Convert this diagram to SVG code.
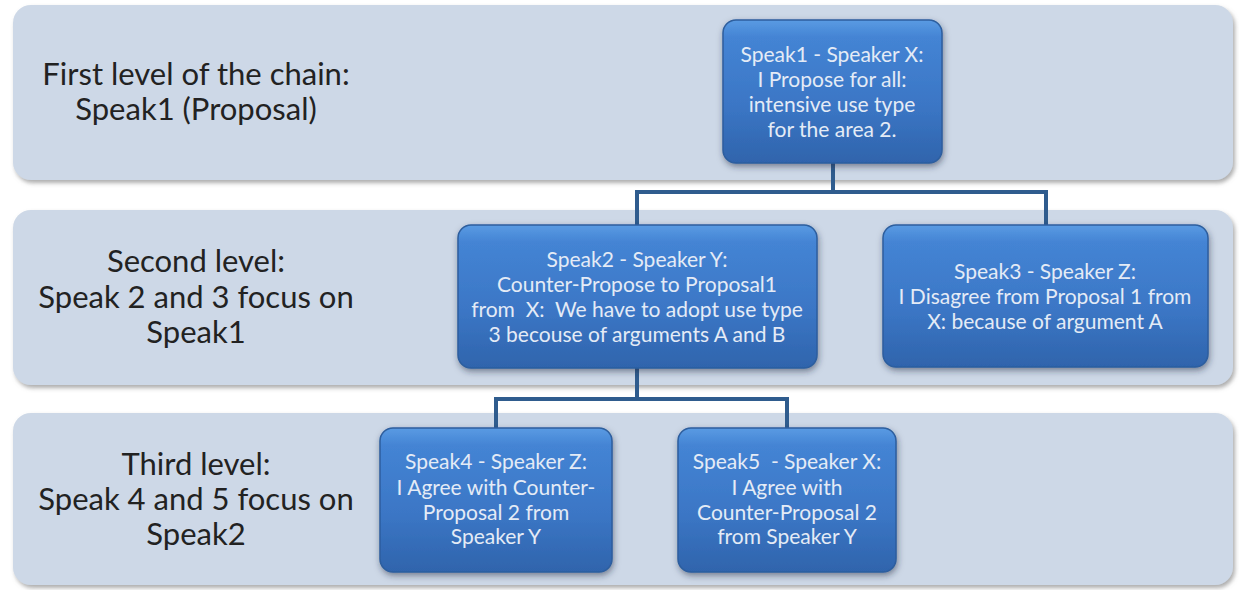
<svg xmlns="http://www.w3.org/2000/svg" width="1239" height="590" viewBox="0 0 1239 590">
<defs>
<linearGradient id="nodeGrad" x1="0" y1="0" x2="0" y2="1">
<stop offset="0" stop-color="#5a9be3"/>
<stop offset="0.12" stop-color="#4484d4"/>
<stop offset="0.6" stop-color="#3b76c5"/>
<stop offset="1" stop-color="#2f64ac"/>
</linearGradient>
<filter id="bandShadow" x="-5%" y="-10%" width="110%" height="125%">
<feDropShadow dx="2" dy="3" stdDeviation="2" flood-color="#777" flood-opacity="0.6"/>
</filter>
<filter id="nodeShadow" x="-10%" y="-10%" width="125%" height="130%">
<feDropShadow dx="1" dy="3" stdDeviation="3" flood-color="#1a2a40" flood-opacity="0.5"/>
</filter>
</defs>
<style>
.band{fill:#cdd8e7;filter:url(#bandShadow);}
.node{fill:url(#nodeGrad);stroke:#2d5e9e;stroke-width:1.5;filter:url(#nodeShadow);}
.lbl{font-family:Lato,"Liberation Sans",sans-serif;font-size:31px;fill:#222;text-anchor:middle;}
.ntxt{font-family:Lato,"Liberation Sans",sans-serif;font-size:21px;fill:#e4ebf6;text-anchor:middle;}
.conn{fill:none;stroke:#2f5c8e;stroke-width:4;}
</style>
<rect width="1239" height="590" fill="#ffffff"/>
<g id="bands">
<rect class="band" x="13" y="5" width="1220" height="175" rx="18"/>
<rect class="band" x="13" y="210" width="1220" height="175" rx="18"/>
<rect class="band" x="13" y="413" width="1220" height="172" rx="18"/>
</g>
<g id="level-labels">
<text class="lbl" x="196" y="85">First level of the chain:</text>
<text class="lbl" x="196" y="120">Speak1 (Proposal)</text>
<text class="lbl" x="196" y="272">Second level:</text>
<text class="lbl" x="196" y="308">Speak 2 and 3 focus on</text>
<text class="lbl" x="196" y="343">Speak1</text>
<text class="lbl" x="196" y="475">Third level:</text>
<text class="lbl" x="196" y="510">Speak 4 and 5 focus on</text>
<text class="lbl" x="196" y="545">Speak2</text>
</g>
<g id="connectors">
<path class="conn" d="M833 163 V192 M637 225 V192 H1046 V225"/>
<path class="conn" d="M637 368 V399 M496 428 V399 H787 V428"/>
</g>
<g id="speak1">
<rect class="node" x="723" y="20" width="219" height="143" rx="13"/>
<text class="ntxt" x="832" y="62">Speak1 - Speaker X:</text>
<text class="ntxt" x="832" y="87">I Propose for all:</text>
<text class="ntxt" x="832" y="112">intensive use type</text>
<text class="ntxt" x="832" y="137">for the area 2.</text>
</g>
<g id="speak2">
<rect class="node" x="458" y="225" width="359" height="143" rx="13"/>
<text class="ntxt" x="637" y="267">Speak2 - Speaker Y:</text>
<text class="ntxt" x="637" y="292">Counter-Propose to Proposal1</text>
<text class="ntxt" x="637" y="317" xml:space="preserve">from  X:  We have to adopt use type</text>
<text class="ntxt" x="637" y="342">3 becouse of arguments A and B</text>
</g>
<g id="speak3">
<rect class="node" x="883" y="225" width="325" height="142" rx="13"/>
<text class="ntxt" x="1045" y="279">Speak3 - Speaker Z:</text>
<text class="ntxt" x="1045" y="304">I Disagree from Proposal 1 from</text>
<text class="ntxt" x="1045" y="329">X: because of argument A</text>
</g>
<g id="speak4">
<rect class="node" x="380" y="428" width="232" height="144" rx="13"/>
<text class="ntxt" x="496" y="469">Speak4 - Speaker Z:</text>
<text class="ntxt" x="496" y="495">I Agree with Counter-</text>
<text class="ntxt" x="496" y="520">Proposal 2 from</text>
<text class="ntxt" x="496" y="544">Speaker Y</text>
</g>
<g id="speak5">
<rect class="node" x="678" y="428" width="218" height="144" rx="13"/>
<text class="ntxt" x="787" y="469" xml:space="preserve">Speak5  - Speaker X:</text>
<text class="ntxt" x="787" y="495">I Agree with</text>
<text class="ntxt" x="787" y="520">Counter-Proposal 2</text>
<text class="ntxt" x="787" y="544">from Speaker Y</text>
</g>
</svg>
